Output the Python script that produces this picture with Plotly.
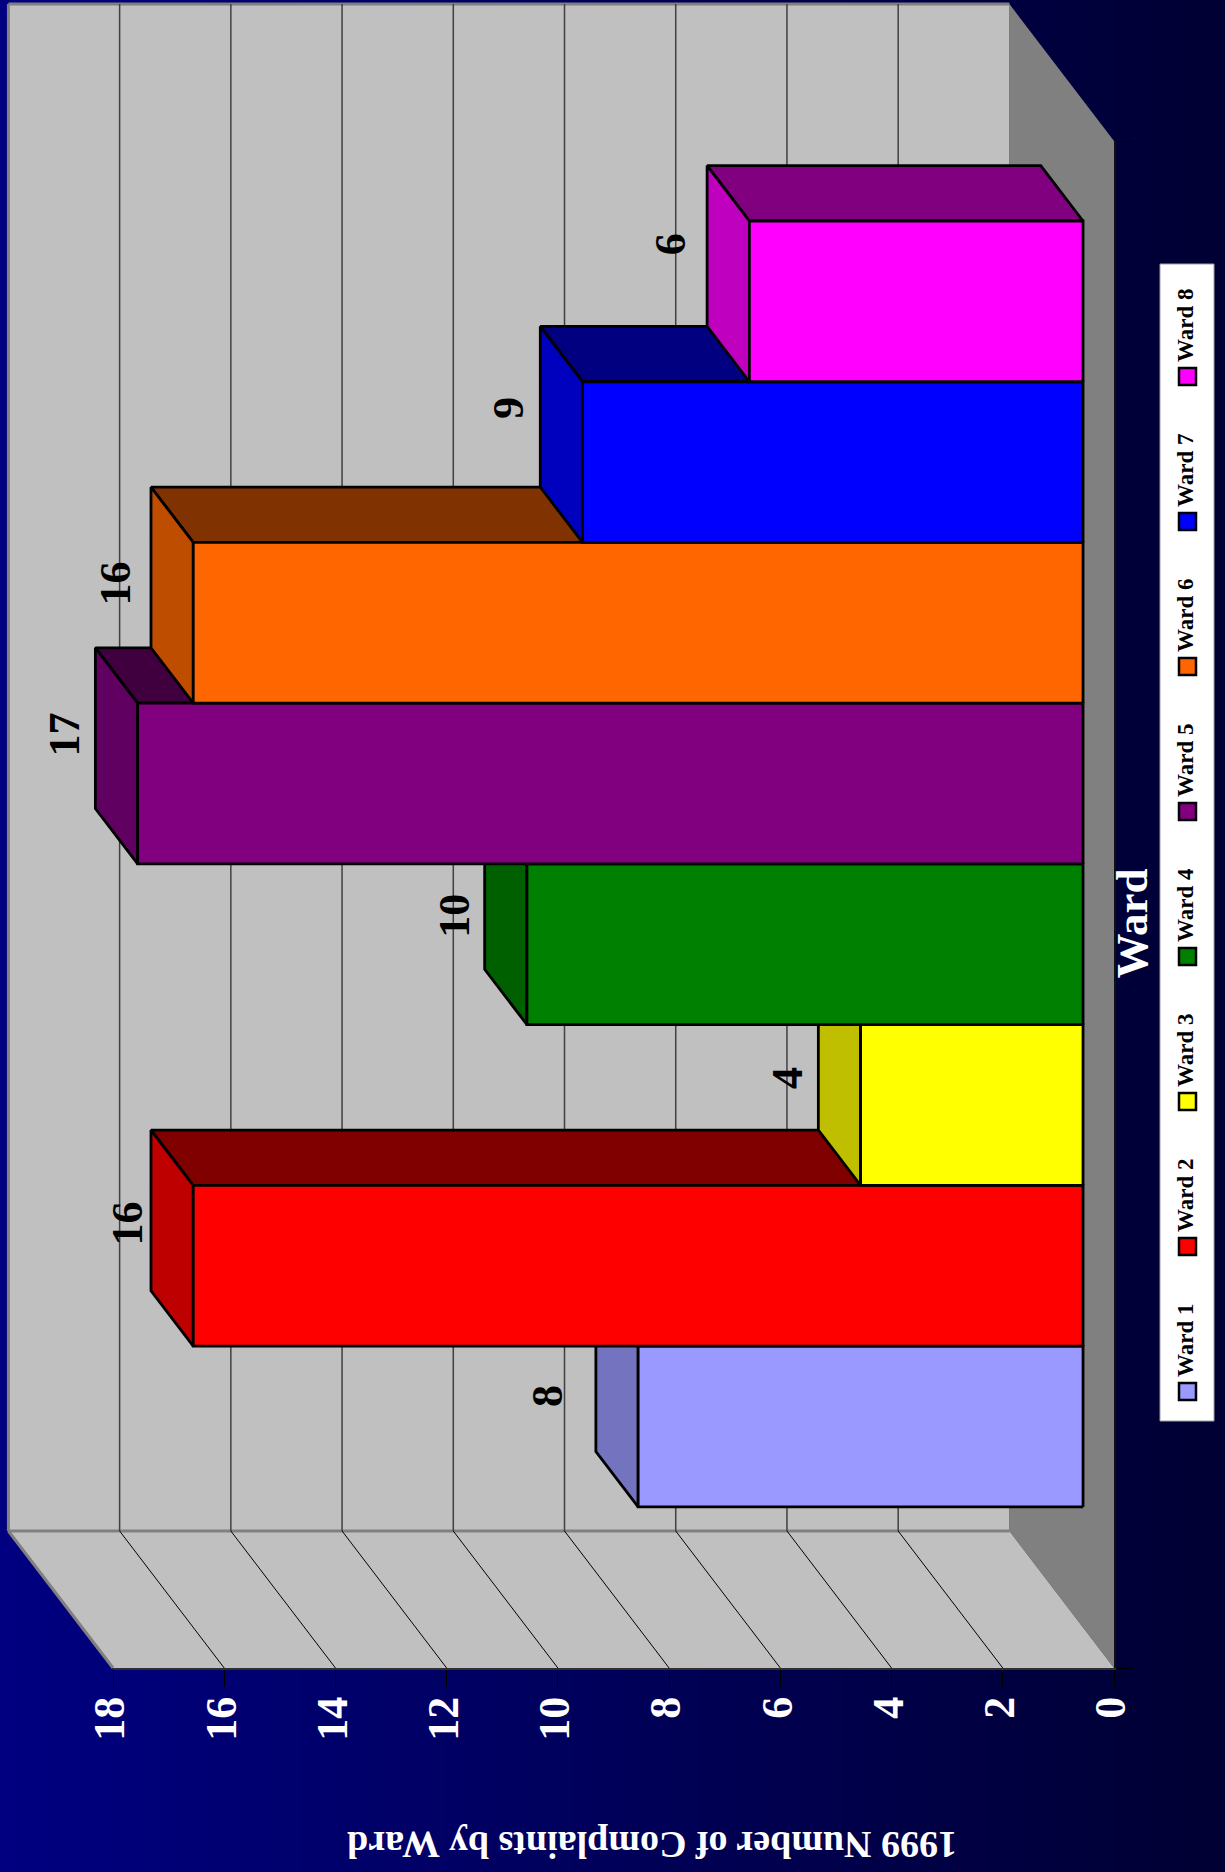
import plotly.graph_objects as go

# ---- data ----
WARDS = ["Ward 1", "Ward 2", "Ward 3", "Ward 4", "Ward 5", "Ward 6", "Ward 7", "Ward 8"]
COMPLAINTS = [8, 16, 4, 10, 17, 16, 9, 6]
VALUE_TICKS = [0, 2, 4, 6, 8, 10, 12, 14, 16, 18]
TITLE = "1999 Number of Complaints by Ward"
AXIS_TITLE = "Ward"

# ---- styles ----
FRONT = ["#9999FF", "#FF0000", "#FFFF00", "#008000", "#800080", "#FF6600", "#0000FF", "#FF00FF"]
END = ["#7373BF", "#BF0000", "#BFBF00", "#006000", "#600060", "#BF4D00", "#0000BF", "#BF00BF"]
TOP = ["#4D4D80", "#800000", "#808000", "#004000", "#400040", "#803300", "#000080", "#800080"]
LABEL_NUDGE = [(-49, 25), (-24, 13), (-31, 28), (-30, 27), (-31, 6), (-36, 16), (-32, 1), (-37, -2)]

W, H = 1225, 1872
FONT = "Liberation Serif"
PX_VAL = (1114 - 113) / 18.0     # pixels per complaint
PX_CAT = (1668 - 141) / 9.5      # pixels per category
DEPTH_X = 104.6 / PX_VAL         # full depth, in value units
DEPTH_Y = 137.0 / PX_CAT         # full depth, in category units
CAT_PAD = 0.75
D_FRONT, D_BACK = 0.296, 0.70
CAT_MAX = len(WARDS) + 2 * CAT_PAD
VAL_MAX = VALUE_TICKS[-1]
LABEL_SHIFT = 3                  # tick labels sit this many px left of their ticks


def proj(v, c, d):
    return v + d * DEPTH_X, c + d * DEPTH_Y


def poly(pts, fill, line="black", lw=2.8):
    xs, ys = zip(*pts)
    return go.Scatter(x=list(xs) + [xs[0]], y=list(ys) + [ys[0]], mode="lines", fill="toself",
                      fillcolor=fill, line=dict(color=line, width=lw), hoverinfo="skip",
                      showlegend=False, xaxis="x", yaxis="y")


def seg(a, b, color, lw):
    return go.Scatter(x=[a[0], b[0]], y=[a[1], b[1]], mode="lines", line=dict(color=color, width=lw),
                      hoverinfo="skip", showlegend=False, xaxis="x", yaxis="y")


def px(x):
    return x / W


def py(y):
    return 1 - y / H


traces = []
# right-hand floor
traces.append(poly([proj(0, 0, 0), proj(0, CAT_MAX, 0), proj(0, CAT_MAX, 1), proj(0, 0, 1)], "#808080", "#808080", 0))
# back wall
traces.append(poly([proj(0, 0, 1), proj(VAL_MAX, 0, 1), proj(VAL_MAX, CAT_MAX, 1), proj(0, CAT_MAX, 1)], "#C0C0C0", "#808080", 0))
# lower side wall
traces.append(poly([proj(0, 0, 0), proj(VAL_MAX, 0, 0), proj(VAL_MAX, 0, 1), proj(0, 0, 1)], "#C0C0C0", "#808080", 0))
# wall borders
traces.append(seg(proj(0, 0, 1), proj(VAL_MAX, 0, 1), "#808080", 3))
traces.append(seg(proj(VAL_MAX, 0, 1), proj(VAL_MAX, CAT_MAX, 1), "#808080", 3))
traces.append(seg(proj(VAL_MAX, CAT_MAX, 1), proj(0, CAT_MAX, 1), "#808080", 3))
traces.append(seg(proj(VAL_MAX, 0, 0), proj(VAL_MAX, 0, 1), "#808080", 3))
# grid lines
for t in VALUE_TICKS[1:-1]:
    traces.append(seg(proj(t, 0, 0), proj(t, 0, 1), "#000000", 1))
    traces.append(seg(proj(t, 0, 1), proj(t, CAT_MAX, 1), "#404040", 1.5))

# bars (painter's order: Ward 1 first)
annotations = []
for i, (name, v) in enumerate(zip(WARDS, COMPLAINTS)):
    c0, c1 = i + CAT_PAD, i + 1 + CAT_PAD
    traces.append(poly([proj(0, c1, D_FRONT), proj(v, c1, D_FRONT), proj(v, c1, D_BACK), proj(0, c1, D_BACK)], TOP[i]))
    traces.append(poly([proj(v, c0, D_FRONT), proj(v, c1, D_FRONT), proj(v, c1, D_BACK), proj(v, c0, D_BACK)], END[i]))
    traces.append(poly([proj(0, c0, D_FRONT), proj(v, c0, D_FRONT), proj(v, c1, D_FRONT), proj(0, c1, D_FRONT)], FRONT[i]))
    lx, ly = proj(v, (c0 + c1) / 2, D_BACK)
    dx, dy = LABEL_NUDGE[i]
    annotations.append(dict(x=lx, y=ly, xref="x", yref="y", text=str(v), showarrow=False, textangle=-90,
                            xanchor="center", yanchor="middle", xshift=dx, yshift=-dy,
                            font=dict(family=FONT, size=44, color="black", weight=700)))

# carriers for the visible value / category axes
for xa in ("x2", "x3"):
    traces.append(go.Scatter(x=[0, VAL_MAX], y=[0, CAT_MAX], mode="lines", line=dict(width=0, color="rgba(0,0,0,0)"),
                             hoverinfo="skip", showlegend=False, xaxis=xa, yaxis="y2"))

# background gradient, drawn as thin strips
shapes = []
STRIPS = 77
for s in range(STRIPS):
    b = round(128 - (128 - 51) * s / (STRIPS - 1))
    x0, x1 = round(s * W / STRIPS), round((s + 1) * W / STRIPS)
    shapes.append(dict(type="rect", xref="paper", yref="paper", x0=px(x0), x1=px(x1) + 0.001, y0=0, y1=1,
                       fillcolor=f"rgb(0,0,{b})", line=dict(width=0), layer="below"))

# legend box, keys and texts
shapes.append(dict(type="rect", xref="paper", yref="paper", x0=px(1160), x1=px(1214), y0=py(1421), y1=py(264),
                   fillcolor="white", line=dict(color="#A0A0A0", width=1)))
for i, name in enumerate(WARDS):
    yc = 1391.5 - 145 * i
    shapes.append(dict(type="rect", xref="paper", yref="paper", x0=px(1179), x1=px(1196),
                       y0=py(yc + 8.5), y1=py(yc - 8.5), fillcolor=FRONT[i], line=dict(color="black", width=2.5)))
    annotations.append(dict(x=px(1185.5), y=py(yc - 51), xref="paper", yref="paper", text=name, showarrow=False,
                            textangle=-90, xanchor="center", yanchor="middle",
                            font=dict(family=FONT, size=23, color="black", weight=700)))

annotations.append(dict(x=px(652), y=py(1845), xref="paper", yref="paper", text=TITLE, showarrow=False, textangle=180,
                        xanchor="center", yanchor="middle", font=dict(family=FONT, size=38, color="white", weight=700)))
annotations.append(dict(x=px(1131), y=py(923.5), xref="paper", yref="paper", text=AXIS_TITLE, showarrow=False,
                        textangle=-90, xanchor="center", yanchor="middle",
                        font=dict(family=FONT, size=45, color="white", weight=700)))

fig = go.Figure(traces)
fig.update_layout(
    width=W, height=H, autosize=False, margin=dict(l=0, r=0, t=0, b=0, pad=0),
    paper_bgcolor="#000060", plot_bgcolor="rgba(0,0,0,0)", showlegend=False,
    shapes=shapes, annotations=annotations,
    xaxis=dict(domain=[0, 1], range=[(1114 - 0) / PX_VAL, (1114 - W) / PX_VAL], visible=False, fixedrange=True,
               automargin=False),
    yaxis=dict(domain=[0, 1], range=[(1668 - H) / PX_CAT, 1668 / PX_CAT], visible=False, fixedrange=True,
               automargin=False),
    xaxis2=dict(domain=[px(113), px(1114)], range=[VAL_MAX, 0], anchor="y2", tickvals=VALUE_TICKS,
                ticks="outside", ticklen=17, tickwidth=1, tickcolor="black", showline=True, showticklabels=False,
                linecolor="#303030", linewidth=2, showgrid=False, zeroline=False, automargin=False, fixedrange=True),
    xaxis3=dict(domain=[px(113 - LABEL_SHIFT), px(1114 - LABEL_SHIFT)], range=[VAL_MAX, 0], anchor="y2",
                tickvals=VALUE_TICKS, ticks="", showline=False, showgrid=False, zeroline=False, tickangle=-90,
                automargin=False, ticklabelstandoff=19,
                tickfont=dict(family=FONT, size=44, color="white", weight=700), fixedrange=True),
    yaxis2=dict(domain=[py(1668), py(141)], range=[0, CAT_MAX], anchor="x2", side="right", tickvals=[0, CAT_MAX],
                ticks="outside", ticklen=17, tickwidth=1, tickcolor="black", showticklabels=False, showline=True,
                linecolor="#101010", linewidth=2, showgrid=False, zeroline=False, fixedrange=True, automargin=False),
)
fig.write_html("out.html", config=dict(displayModeBar=False),
               post_script="document.body.style.margin='0';document.documentElement.style.overflow='hidden';")
